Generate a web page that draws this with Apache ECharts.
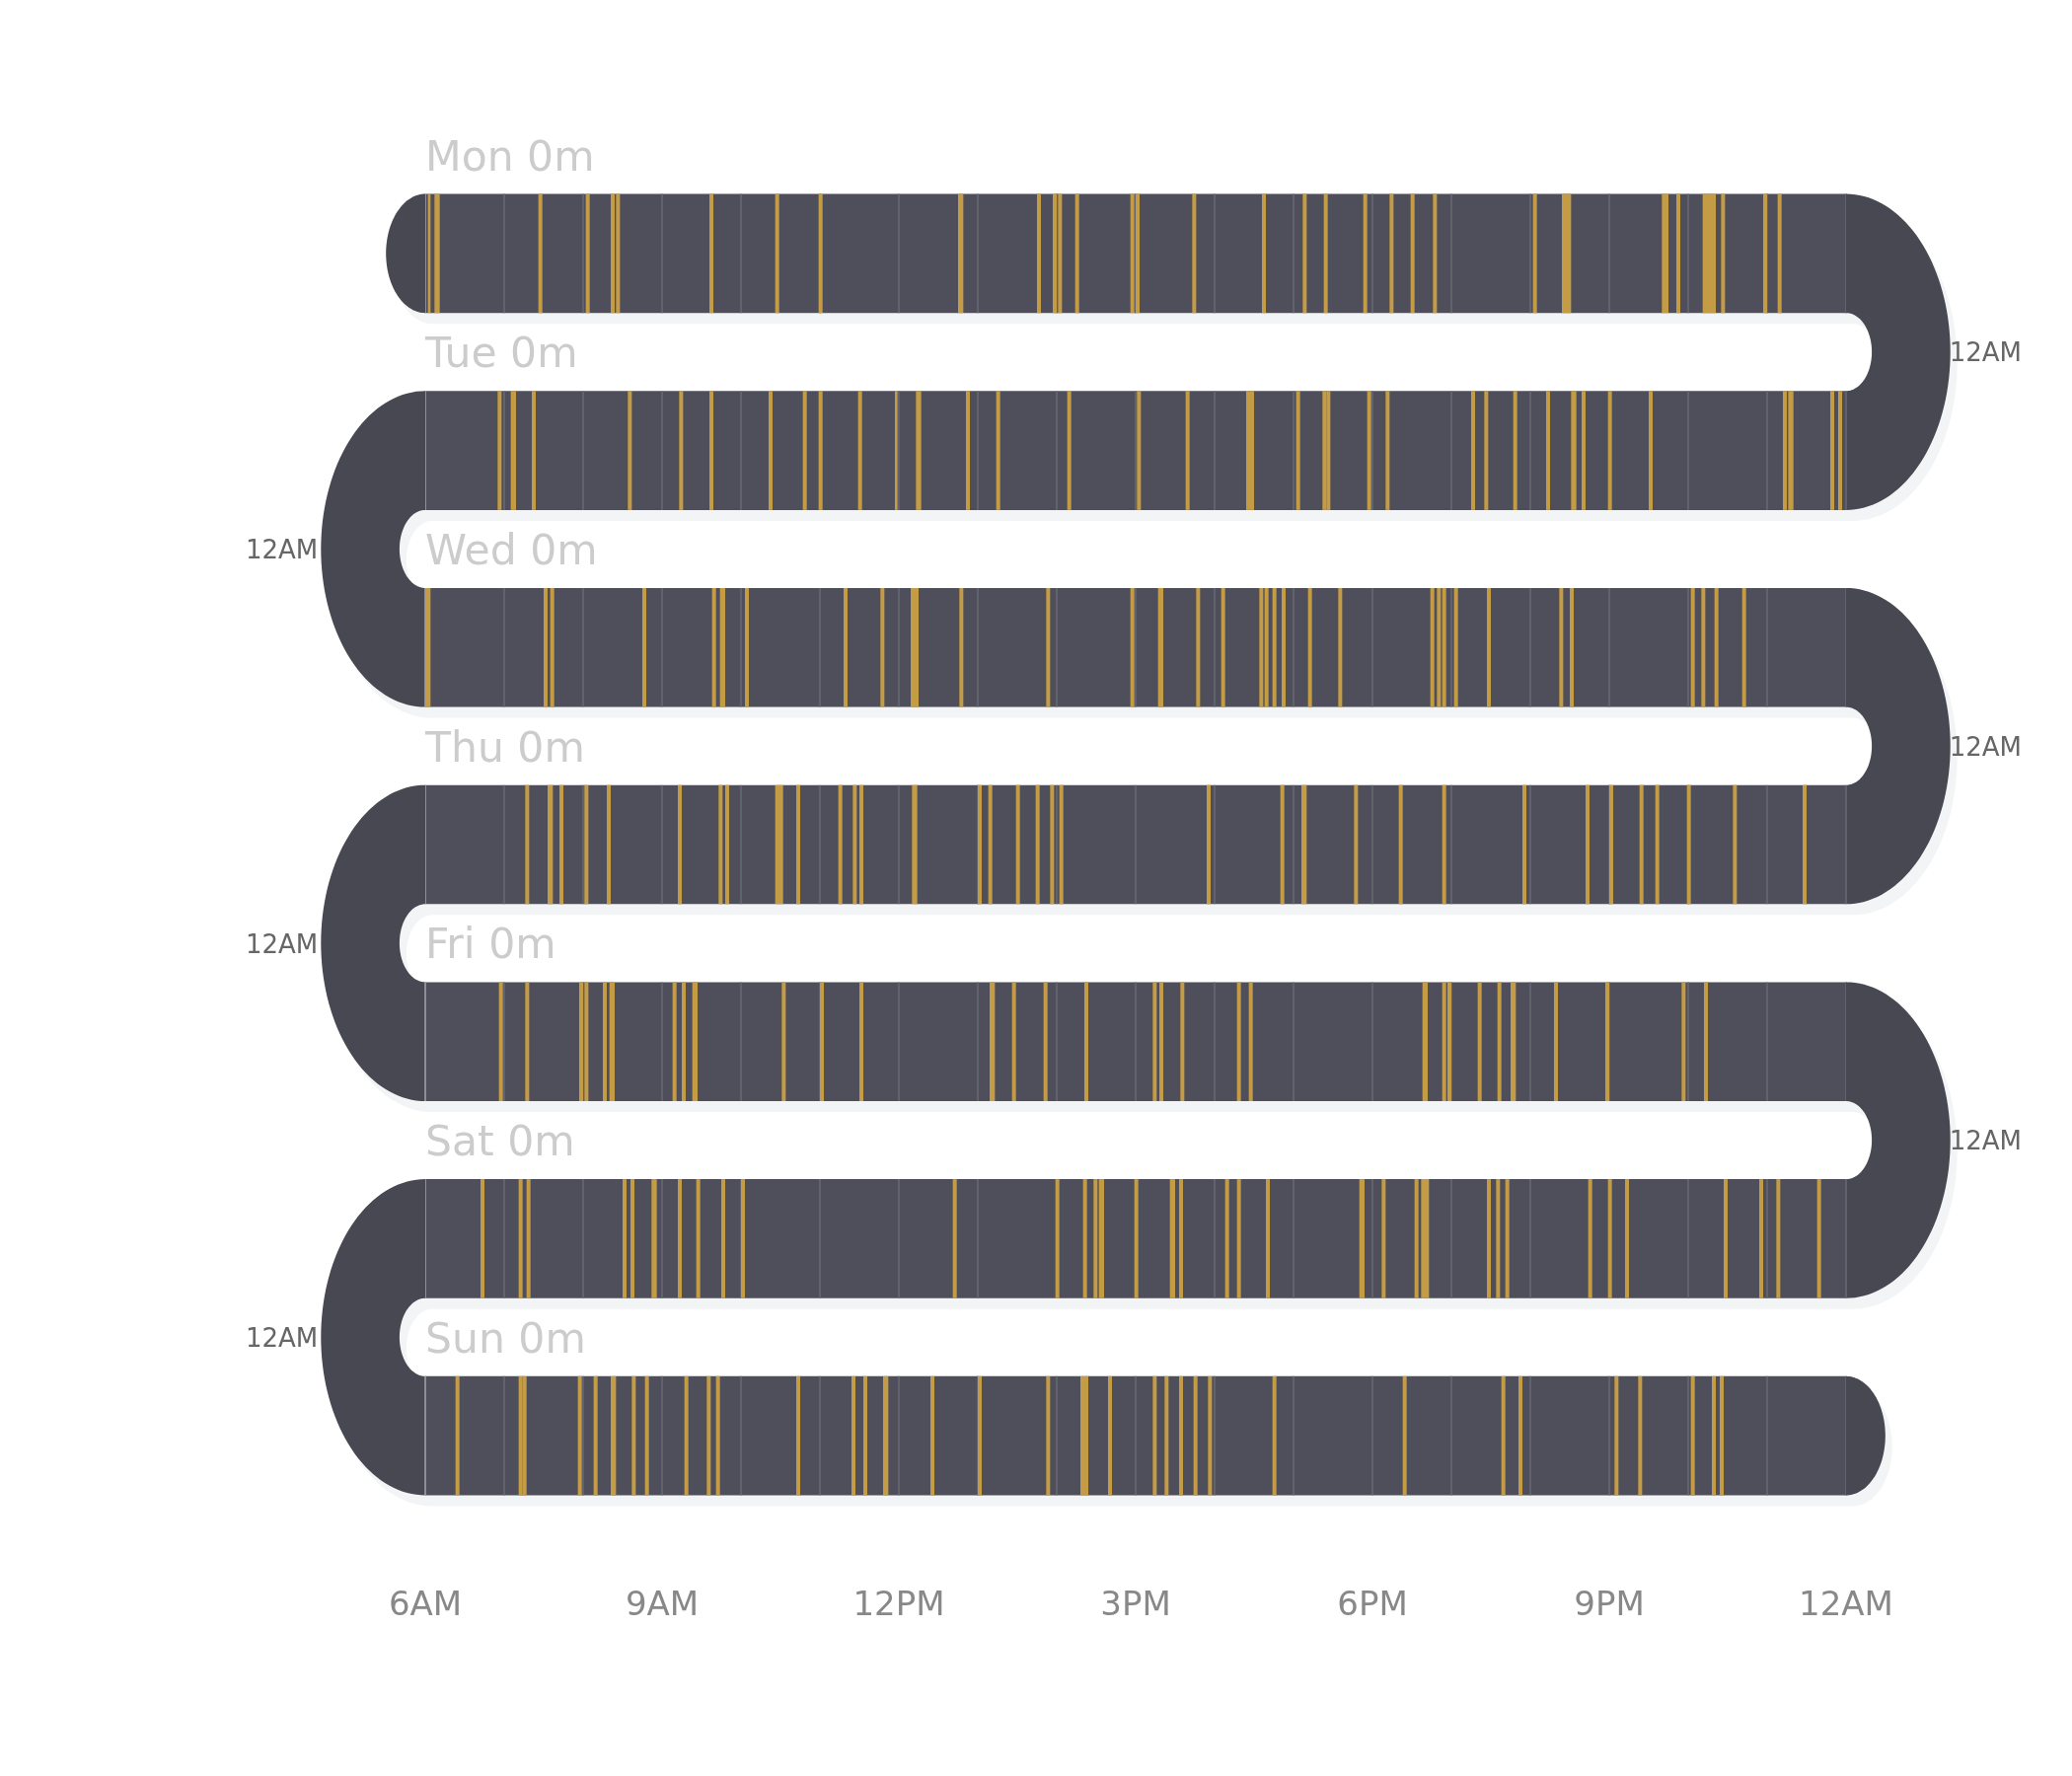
<!DOCTYPE html>
<html>
<head>
<meta charset="utf-8">
<script src="https://cdn.jsdelivr.net/npm/echarts@6/dist/echarts.min.js"></script>
<style>
  html, body { margin: 0; background: #fff; }
  #chart { width: 2100px; height: 1800px; }
</style>
</head>
<body>
<div id="chart"></div>
<script>
// days of the week, top to bottom, and the total shown next to each name
const days = ['Mon', 'Tue', 'Wed', 'Thu', 'Fri', 'Sat', 'Sun'];
const dayTotals = ['0m', '0m', '0m', '0m', '0m', '0m', '0m'];
const xTickLabels = ['6AM', '9AM', '12PM', '3PM', '6PM', '9PM', '12AM'];
const capLabel = '12AM';

// events per day: [start 'H:MM', duration in minutes]
const monEvents = [
  ['6:02', 2], ['6:07', 4], ['7:26', 3], ['8:02', 3], ['8:21', 3], ['8:25', 3], ['9:36', 3],
  ['10:26', 3], ['10:59', 3], ['12:45', 4], ['13:45', 3], ['13:57', 3], ['14:01', 3], ['14:14', 3],
  ['14:56', 3], ['15:00', 3], ['15:43', 3], ['16:36', 3], ['17:07', 3], ['17:23', 3], ['17:53', 3],
  ['18:13', 3], ['18:29', 3], ['18:46', 3], ['20:02', 3], ['20:24', 7], ['21:40', 5], ['21:51', 3],
  ['22:11', 10], ['22:25', 3], ['22:57', 3], ['23:08', 3]
];
const tueEvents = [
  ['6:55', 3], ['7:05', 4], ['7:21', 3], ['8:34', 3], ['9:13', 3], ['9:36', 3], ['10:21', 3],
  ['10:47', 3], ['10:59', 3], ['11:29', 3], ['11:57', 2], ['12:13', 4], ['12:51', 3], ['13:14', 3],
  ['14:08', 3], ['15:01', 3], ['15:38', 3], ['16:24', 3], ['16:27', 3], ['17:02', 3], ['17:22', 3],
  ['17:25', 3], ['17:56', 3], ['18:10', 3], ['19:15', 3], ['19:25', 3], ['19:47', 3], ['20:12', 3],
  ['20:31', 4], ['20:39', 3], ['20:59', 3], ['21:30', 3], ['23:12', 3], ['23:16', 4], ['23:48', 3],
  ['23:54', 3]
];
const wedEvents = [
  ['6:00', 4], ['7:30', 3], ['7:35', 3], ['8:45', 3], ['9:38', 3], ['9:44', 4], ['10:03', 3],
  ['11:18', 3], ['11:46', 3], ['12:09', 6], ['12:46', 3], ['13:52', 3], ['14:56', 3], ['15:17', 4],
  ['15:46', 3], ['16:05', 3], ['16:34', 3], ['16:38', 3], ['16:44', 3], ['16:51', 3], ['17:11', 3],
  ['17:34', 3], ['18:44', 3], ['18:49', 3], ['18:53', 3], ['19:02', 3], ['19:27', 3], ['20:22', 3],
  ['20:30', 3], ['22:02', 3], ['22:10', 3], ['22:20', 3], ['22:41', 3]
];
const thuEvents = [
  ['7:16', 3], ['7:33', 4], ['7:42', 3], ['8:01', 3], ['8:18', 3], ['9:12', 3], ['9:43', 3],
  ['9:48', 3], ['10:26', 6], ['10:42', 3], ['11:14', 3], ['11:25', 3], ['11:30', 3], ['12:10', 4],
  ['13:00', 3], ['13:08', 3], ['13:29', 3], ['13:44', 3], ['13:55', 3], ['14:02', 3], ['15:54', 3],
  ['16:50', 3], ['17:06', 4], ['17:46', 3], ['18:20', 3], ['18:53', 3], ['19:54', 3], ['20:42', 3],
  ['21:00', 3], ['21:23', 3], ['21:35', 3], ['21:59', 3], ['22:34', 3], ['23:27', 3]
];
const friEvents = [
  ['6:56', 3], ['7:16', 3], ['7:57', 3], ['8:01', 3], ['8:15', 3], ['8:20', 4], ['9:08', 3],
  ['9:15', 3], ['9:23', 4], ['10:31', 3], ['11:00', 3], ['11:30', 3], ['13:09', 4], ['13:26', 3],
  ['13:50', 3], ['14:21', 3], ['15:13', 3], ['15:18', 3], ['15:34', 3], ['16:17', 3], ['16:26', 3],
  ['18:38', 4], ['18:53', 3], ['18:57', 3], ['19:20', 3], ['19:35', 3], ['19:45', 4], ['20:18', 3],
  ['20:57', 3], ['21:55', 3], ['22:12', 3]
];
const satEvents = [
  ['6:42', 3], ['7:11', 3], ['7:17', 3], ['8:30', 3], ['8:36', 3], ['8:52', 4], ['9:12', 3],
  ['9:26', 3], ['9:45', 3], ['10:00', 3], ['12:41', 3], ['13:59', 3], ['14:20', 3], ['14:28', 3],
  ['14:32', 4], ['14:59', 3], ['15:26', 4], ['15:33', 3], ['16:08', 3], ['16:17', 3], ['16:39', 3],
  ['17:50', 4], ['18:07', 3], ['18:32', 3], ['18:37', 6], ['19:27', 3], ['19:34', 3], ['19:41', 3],
  ['20:44', 3], ['20:59', 3], ['21:12', 3], ['22:27', 3], ['22:54', 3], ['23:07', 3], ['23:38', 3]
];
const sunEvents = [
  ['6:23', 3], ['7:11', 3], ['7:14', 3], ['7:56', 3], ['8:08', 3], ['8:21', 4], ['8:37', 3],
  ['8:47', 3], ['9:17', 3], ['9:34', 3], ['9:41', 3], ['10:42', 3], ['11:24', 3], ['11:33', 3],
  ['11:48', 4], ['12:24', 3], ['13:00', 3], ['13:52', 3], ['14:18', 6], ['14:39', 3], ['15:13', 3],
  ['15:22', 3], ['15:33', 3], ['15:44', 3], ['15:55', 3], ['16:44', 3], ['18:23', 3], ['19:38', 3],
  ['19:51', 3], ['21:04', 3], ['21:22', 3], ['22:02', 3], ['22:18', 3], ['22:24', 3]
];
const weekEvents = [monEvents, tueEvents, wedEvents, thuEvents, friEvents, satEvents, sunEvents];

const DAY_START = 360, DAY_END = 1440;     // minutes of day shown on each row
const BAND_TOP = 0.198, BAND_BOT = 0.802;  // band inside each row slot
const ELLIPSE = 0.66;                      // caps are squashed horizontally
const FONT = 'DejaVu Sans';
const BAND = '#4f4f5b', CAP = '#484852', SHADOW = '#f3f4f6', GOLD = '#c49c46';

const toMin = t => { const [h, m] = t.split(':').map(Number); return h * 60 + m; };
const eventData = [];
weekEvents.forEach((list, day) => list.forEach(([t, d]) => eventData.push([toMin(t), day, d])));

function halfRing(cx, cy, ryO, ryI, side) {
  const pts = [], n = 72;
  for (let k = 0; k <= n; k++) {
    const a = -Math.PI / 2 + Math.PI * k / n;
    pts.push([cx + side * ryO * ELLIPSE * Math.cos(a), cy + ryO * Math.sin(a)]);
  }
  for (let k = n; k >= 0; k--) {
    const a = -Math.PI / 2 + Math.PI * k / n;
    pts.push([cx + side * ryI * ELLIPSE * Math.cos(a), cy + ryI * Math.sin(a)]);
  }
  return pts;
}

// caps belonging to row i: start cap, turn to the next row, end cap
function capsFor(i, api) {
  const unit = api.size([0, 1])[1];
  const xl = api.coord([DAY_START, 0])[0], xr = api.coord([DAY_END, 0])[0];
  const caps = [];
  if (i === 0) caps.push({ cx: xl, cy: api.coord([0, i + 0.5])[1], ryO: (BAND_BOT - 0.5) * unit, ryI: 0, side: -1 });
  if (i < days.length - 1) {
    const side = i % 2 === 0 ? 1 : -1;
    caps.push({ cx: side > 0 ? xr : xl, cy: api.coord([0, i + 1])[1], ryO: BAND_BOT * unit, ryI: BAND_TOP * unit, side, label: true });
  }
  if (i === days.length - 1) caps.push({ cx: xr, cy: api.coord([0, i + 0.5])[1], ryO: (BAND_BOT - 0.5) * unit, ryI: 0, side: 1 });
  return caps;
}

function bandRect(i, api) {
  const p = api.coord([DAY_START, i + BAND_TOP]);
  const q = api.coord([DAY_END, i + BAND_BOT]);
  return { x: p[0], y: p[1], width: q[0] - p[0], height: q[1] - p[1] };
}

const chart = echarts.init(document.getElementById('chart'), null, { renderer: 'canvas' });
chart.setOption({
  backgroundColor: '#ffffff',
  animation: false,
  grid: { left: 431, right: 229, top: 157, bottom: 245 },
  xAxis: {
    type: 'value', min: DAY_START, max: DAY_END, interval: 180,
    axisLine: { show: false }, axisTick: { show: false }, splitLine: { show: false },
    axisLabel: {
      color: '#888888', fontSize: 34, fontFamily: FONT, margin: 56,
      formatter: v => xTickLabels[(v - DAY_START) / 180]
    }
  },
  yAxis: { type: 'value', min: 0, max: 7, inverse: true, show: false },
  series: [
    {
      // flat drop shadow of the whole ribbon
      type: 'custom', z: 1, silent: true,
      data: days.map((d, i) => [DAY_START, i]),
      encode: { x: 0, y: 1 },
      renderItem: (params, api) => {
        const i = params.dataIndex;
        const children = [{ type: 'rect', shape: bandRect(i, api), style: { fill: SHADOW } }];
        capsFor(i, api).forEach(c => children.push({
          type: 'polygon', shape: { points: halfRing(c.cx, c.cy, c.ryO, c.ryI, c.side) }, style: { fill: SHADOW }
        }));
        return { type: 'group', x: 7, y: 11, children };
      }
    },
    {
      // ribbon rows, hour lines, turns and labels
      type: 'custom', z: 2, silent: true,
      data: days.map((d, i) => [DAY_START, i]),
      encode: { x: 0, y: 1 },
      renderItem: (params, api) => {
        const i = params.dataIndex;
        const r = bandRect(i, api);
        const children = [{ type: 'rect', shape: r, style: { fill: BAND } }];
        for (let h = 0; h <= 18; h++) {
          const x = api.coord([DAY_START + h * 60, 0])[0];
          children.push({
            type: 'line', shape: { x1: x, y1: r.y, x2: x, y2: r.y + r.height },
            style: { stroke: h === 0 ? '#a4a4ad' : '#686874', lineWidth: 1.5 }
          });
        }
        capsFor(i, api).forEach(c => {
          children.push({
            type: 'polygon', shape: { points: halfRing(c.cx, c.cy, c.ryO, c.ryI, c.side) }, style: { fill: CAP }
          });
          if (c.label) {
            children.push({
              type: 'text',
              style: {
                text: capLabel, x: c.cx + c.side * (c.ryO * ELLIPSE + (c.side > 0 ? -1 : 3)), y: c.cy + 3,
                fill: '#666666', fontSize: 26, fontFamily: FONT,
                align: c.side > 0 ? 'left' : 'right', verticalAlign: 'middle'
              }
            });
          }
        });
        children.push({
          type: 'text',
          style: {
            text: days[i] + ' ' + dayTotals[i], x: r.x, y: r.y - 35,
            fill: '#cccccc', fontSize: 42.5, fontFamily: FONT, align: 'left', verticalAlign: 'middle'
          }
        });
        return { type: 'group', children };
      }
    },
    {
      // individual events
      type: 'custom', z: 3, silent: true,
      data: eventData,
      encode: { x: 0, y: 1 },
      renderItem: (params, api) => {
        const s = api.value(0), day = api.value(1), d = api.value(2);
        const p = api.coord([s, day + BAND_TOP]);
        const q = api.coord([s + d, day + BAND_BOT]);
        return {
          type: 'rect',
          shape: { x: p[0], y: p[1], width: q[0] - p[0], height: q[1] - p[1] },
          style: { fill: GOLD }
        };
      }
    }
  ]
});
</script>
</body>
</html>
